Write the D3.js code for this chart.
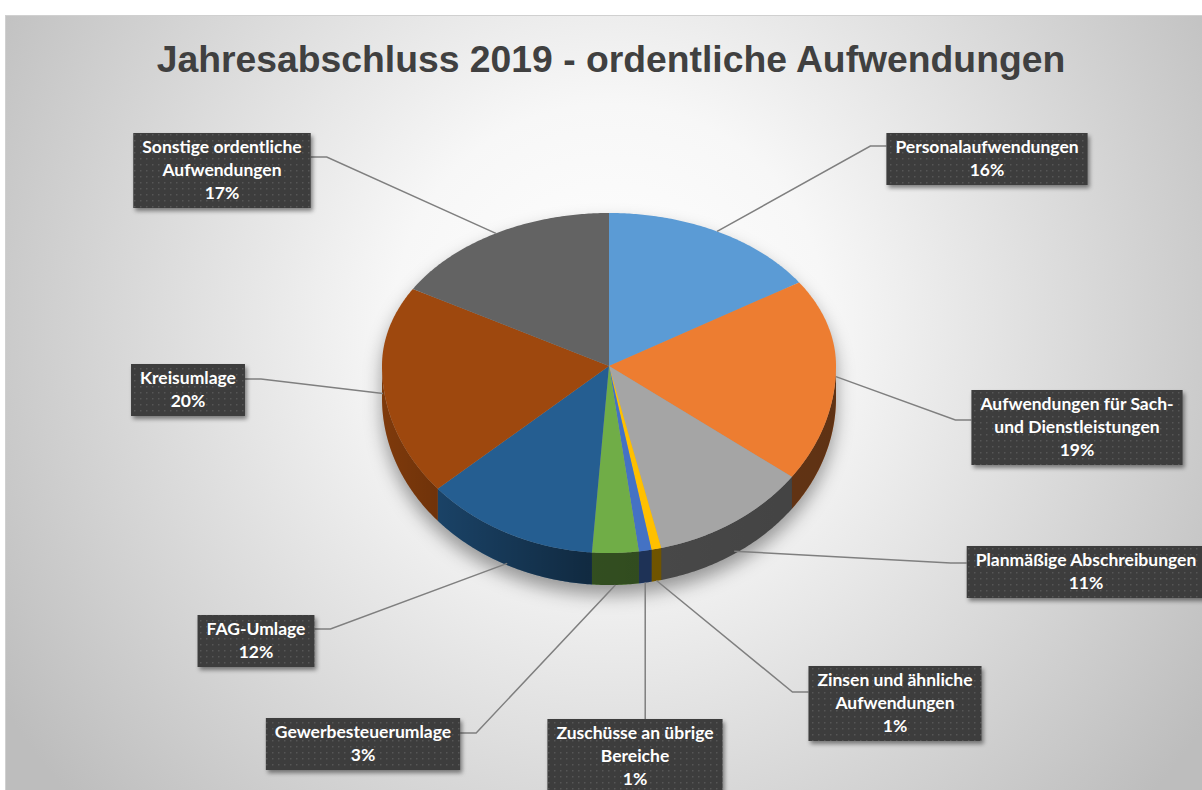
<!DOCTYPE html>
<html>
<head>
<meta charset="utf-8">
<script src="https://cdn.jsdelivr.net/npm/d3@7"></script>
<style>
  body { margin: 0; background: #fff; }
  svg { display: block; }
</style>
</head>
<body>
<svg></svg>
<script>
// constants
const WIDTH = 1202;
const HEIGHT = 790;

// data (shares in percent)
const categories = ['Personalaufwendungen', 'Aufwendungen für Sach- und Dienstleistungen', 'Planmäßige Abschreibungen',
  'Zinsen und ähnliche Aufwendungen', 'Zuschüsse an übrige Bereiche', 'Gewerbesteuerumlage', 'FAG-Umlage',
  'Kreisumlage', 'Sonstige ordentliche Aufwendungen'];
const shares = [15.8, 19.3, 11.2, 0.7, 0.9, 3.3, 12.4, 19.8, 16.6];
const labelLines = [['Personalaufwendungen'], ['Aufwendungen für Sach-', 'und Dienstleistungen'], ['Planmäßige Abschreibungen'],
  ['Zinsen und ähnliche', 'Aufwendungen'], ['Zuschüsse an übrige', 'Bereiche'], ['Gewerbesteuerumlage'], ['FAG-Umlage'],
  ['Kreisumlage'], ['Sonstige ordentliche', 'Aufwendungen']];
const colors = ['#5B9BD5', '#ED7D31', '#A5A5A5', '#FFC000', '#4472C4', '#70AD47', '#255E91', '#9E480E', '#636363'];

// label box layout: centre x, top y, side where the leader attaches, offset of that point
const labelLayout = [
  {cx: 987, top: 133, side: 'l', off: 13},
  {cx: 1077, top: 390, side: 'l', off: 30},
  {cx: 1086, top: 546, side: 'l', off: 17},
  {cx: 895, top: 666, side: 'l', off: 26},
  {cx: 635, top: 719, side: 't', off: 0},
  {cx: 363, top: 718, side: 'r', off: 15},
  {cx: 256, top: 615, side: 'r', off: 14},
  {cx: 188, top: 364, side: 'r', off: 15},
  {cx: 222, top: 133, side: 'r', off: 24}
];

// pie geometry
const CX = 609, CY = 366, RX = 227, RY_TOP = 153, RY_BOT = 187, DEPTH = 32;

const svg = d3.select('svg')
  .attr('width', WIDTH)
  .attr('height', HEIGHT);

const defs = svg.append('defs');

const bg = defs.append('radialGradient')
  .attr('id', 'bg')
  .attr('gradientUnits', 'userSpaceOnUse')
  .attr('cx', 610).attr('cy', 320).attr('r', 720);
bg.append('stop').attr('offset', 0).attr('stop-color', '#ffffff');
bg.append('stop').attr('offset', 0.3).attr('stop-color', '#f7f7f7');
bg.append('stop').attr('offset', 1).attr('stop-color', '#bdbdbd');

const sideShade = defs.append('linearGradient')
  .attr('id', 'sideShade')
  .attr('gradientUnits', 'userSpaceOnUse')
  .attr('x1', CX - RX).attr('x2', CX + RX).attr('y1', 0).attr('y2', 0);
sideShade.append('stop').attr('offset', 0).attr('stop-color', '#000').attr('stop-opacity', 0.2);
sideShade.append('stop').attr('offset', 0.45).attr('stop-color', '#000').attr('stop-opacity', 0.55);
sideShade.append('stop').attr('offset', 1).attr('stop-color', '#000').attr('stop-opacity', 0.6);

const blur = defs.append('filter').attr('id', 'blur')
  .attr('x', '-20%').attr('y', '-20%').attr('width', '140%').attr('height', '140%');
blur.append('feGaussianBlur').attr('stdDeviation', 9);

const shadow = defs.append('filter').attr('id', 'boxShadow')
  .attr('x', '-10%').attr('y', '-20%').attr('width', '130%').attr('height', '150%');
shadow.append('feDropShadow').attr('dx', 2).attr('dy', 3).attr('stdDeviation', 2)
  .attr('flood-color', '#000').attr('flood-opacity', 0.45);

const dots = defs.append('pattern').attr('id', 'dots')
  .attr('patternUnits', 'userSpaceOnUse').attr('width', 6).attr('height', 6);
dots.append('rect').attr('width', 6).attr('height', 6).attr('fill', '#3c3c3c');
dots.append('rect').attr('x', 2).attr('y', 2).attr('width', 1.5).attr('height', 1.5).attr('fill', '#575757');

// chart area
svg.append('rect')
  .attr('x', 5).attr('y', 15)
  .attr('width', WIDTH - 5).attr('height', HEIGHT - 15)
  .attr('fill', 'url(#bg)');
svg.append('line')
  .attr('x1', 5).attr('x2', WIDTH).attr('y1', 15.5).attr('y2', 15.5)
  .attr('stroke', '#d0d0d0');
svg.append('line')
  .attr('x1', 5.5).attr('x2', 5.5).attr('y1', 15).attr('y2', HEIGHT)
  .attr('stroke', '#d0d0d0');

svg.append('text')
  .attr('x', 611).attr('y', 72)
  .attr('text-anchor', 'middle')
  .attr('font-family', '"Liberation Sans", Arial, sans-serif')
  .attr('font-weight', 'bold')
  .attr('font-size', 37.3)
  .attr('fill', '#404040')
  .text('Jahresabschluss 2019 - ordentliche Aufwendungen');

// point on the rim of the pie for angle t (clockwise from 12 o'clock)
function rim(t, dz = 0) {
  const c = Math.cos(t);
  return [CX + RX * Math.sin(t), CY - (c >= 0 ? RY_TOP : RY_BOT) * c + dz];
}
function arcPoints(a, b, dz = 0) {
  const n = Math.max(2, Math.ceil((b - a) / 0.01));
  return d3.range(n + 1).map(i => rim(a + (b - a) * i / n, dz));
}
const line = d3.line();

const total = d3.sum(shares);
const arcs = d3.pie().sort(null).value(d => d)(shares);
const fmt = v => Math.round(v / total * 100) + '%';

// soft shadow under the pie
svg.append('path')
  .attr('d', line(arcPoints(Math.PI / 2, 3 * Math.PI / 2, DEPTH)
      .concat(arcPoints(3 * Math.PI / 2, 5 * Math.PI / 2, 0))) + 'Z')
  .attr('transform', 'translate(0, 10)')
  .attr('fill', '#000')
  .attr('fill-opacity', 0.38)
  .attr('filter', 'url(#blur)');

// side walls (front half only)
const pie = svg.append('g');
const FRONT0 = Math.PI / 2, FRONT1 = 3 * Math.PI / 2;
pie.selectAll('path.side')
  .data(arcs.filter(d => d.endAngle > FRONT0 && d.startAngle < FRONT1))
  .join('path')
  .attr('class', 'side')
  .attr('fill', d => colors[d.index])
  .attr('d', d => {
    const a = Math.max(d.startAngle, FRONT0), b = Math.min(d.endAngle, FRONT1);
    return line(arcPoints(a, b).concat(arcPoints(a, b, DEPTH).reverse())) + 'Z';
  });
pie.append('path')
  .attr('d', line(arcPoints(FRONT0, FRONT1).concat(arcPoints(FRONT0, FRONT1, DEPTH).reverse())) + 'Z')
  .attr('fill', 'url(#sideShade)');

// top faces
pie.selectAll('path.top')
  .data(arcs)
  .join('path')
  .attr('class', 'top')
  .attr('fill', d => colors[d.index])
  .attr('d', d => line([[CX, CY]].concat(arcPoints(d.startAngle, d.endAngle))) + 'Z');

// labels
const LINE_H = 23, PAD = 9;
const labels = svg.append('g')
  .attr('font-family', 'Lato, "Open Sans", sans-serif')
  .attr('font-weight', 'bold')
  .attr('font-size', 17.5);

arcs.forEach(d => {
  const i = d.index;
  const lay = labelLayout[i];
  const lines = labelLines[i].concat([fmt(d.value)]);
  const g = labels.append('g');
  const rect = g.append('rect');
  const text = g.append('text')
    .attr('text-anchor', 'middle')
    .attr('fill', '#fff');
  text.selectAll('tspan')
    .data(lines).join('tspan')
    .attr('x', lay.cx)
    .attr('y', (s, k) => lay.top + 20 + k * LINE_H)
    .text(s => s);
  const w = d3.max(text.selectAll('tspan').nodes(), n => n.getComputedTextLength()) + PAD * 2;
  const h = lines.length * LINE_H + 6;
  rect.attr('x', lay.cx - w / 2).attr('y', lay.top)
    .attr('width', w).attr('height', h)
    .attr('fill', 'url(#dots)')
    .attr('filter', 'url(#boxShadow)');

  // leader line from slice to the box
  const mid = (d.startAngle + d.endAngle) / 2;
  const c = Math.cos(mid);
  const p = rim(mid, c < 0 ? DEPTH * Math.sqrt(-c) : 0);
  let pts;
  if (lay.side === 't') {
    pts = [p, [p[0], lay.top]];
  } else {
    const bx = lay.side === 'l' ? lay.cx - w / 2 : lay.cx + w / 2;
    const ex = lay.side === 'l' ? bx - 16 : bx + 16;
    pts = [p, [ex, lay.top + lay.off], [bx, lay.top + lay.off]];
  }
  svg.insert('path', () => labels.node())
    .attr('d', line(pts))
    .attr('fill', 'none')
    .attr('stroke', '#7f7f7f')
    .attr('stroke-width', 1.5);
});
</script>
</body>
</html>
